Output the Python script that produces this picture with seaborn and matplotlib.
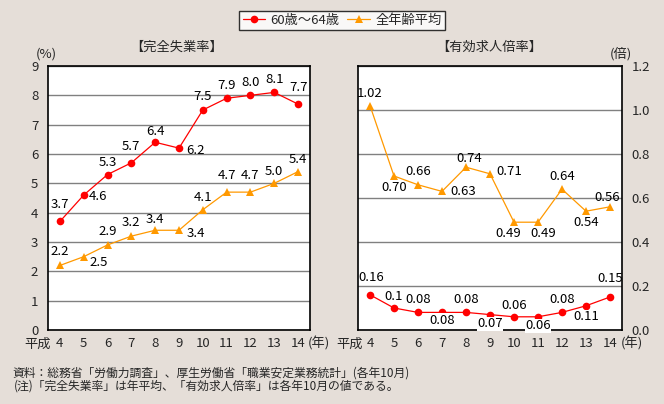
import matplotlib
matplotlib.use("Agg")
import matplotlib.pyplot as plt
import seaborn as sns
import pandas as pd
import numpy as np

sns.set_style("white")
plt.rcParams['font.family'] = ['Noto Sans CJK JP', 'DejaVu Sans']

years = ["4", "5", "6", "7", "8", "9", "10", "11", "12", "13", "14"]
unemp_6064 = [3.7, 4.6, 5.3, 5.7, 6.4, 6.2, 7.5, 7.9, 8.0, 8.1, 7.7]
unemp_all = [2.2, 2.5, 2.9, 3.2, 3.4, 3.4, 4.1, 4.7, 4.7, 5.0, 5.4]
ratio_all = [1.02, 0.70, 0.66, 0.63, 0.74, 0.71, 0.49, 0.49, 0.64, 0.54, 0.56]
ratio_6064 = [0.16, 0.10, 0.08, 0.08, 0.08, 0.07, 0.06, 0.06, 0.08, 0.11, 0.15]
ratio_6064_labels = ["0.16", "0.1", "0.08", "0.08", "0.08", "0.07", "0.06", "0.06", "0.08", "0.11", "0.15"]

name_a = "60歳～64歳"
name_b = "全年齢平均"
RED = "#FF0000"
ORANGE = "#FF9900"
BG = "#E5DED8"

# label offsets (points)
off_u6064 = [(0, 12), (10, -1), (0, 9), (0, 12), (0, 7.5), (12, -2), (0, 9.5), (0, 9.5), (0, 9.5), (0, 9), (0, 12)]
off_uall = [(0, 10), (11, -4.5), (0, 9.5), (0, 9.5), (0, 7.5), (12, -2), (0, 9), (0, 12), (0, 12), (0, 8.5), (0, 8.5)]
off_rall = [(0, 8.5), (0, -8.5), (0, 9.5), (15, 0), (2, 6.5), (14, 1.5), (-4, -8), (4, -8), (0, 9.5), (0, -8), (-2, 7)]
off_r6064 = [(1, 12.5), (0, 8), (0, 9.5), (0, -5.5), (0, 9.5), (0, -6.5), (0, 8), (0, -6.5), (0, 9.5), (0, -8), (0, 13)]

W, H = 664, 404
fig = plt.figure(figsize=(W / 100, H / 100), dpi=100)
fig.patch.set_facecolor(BG)

def px_axes(x0, y0, x1, y1):
    return fig.add_axes([x0 / W, 1 - y1 / H, (x1 - x0) / W, (y1 - y0) / H])

ax1 = px_axes(48, 66, 310, 330)
ax2 = px_axes(358, 66, 622, 330)

x = np.arange(len(years))
df = pd.DataFrame({"x": np.concatenate([x, x]),
                   "u": unemp_6064 + unemp_all,
                   "r": ratio_6064 + ratio_all,
                   "s": [name_a] * len(x) + [name_b] * len(x)})

pal = {name_a: RED, name_b: ORANGE}
mk = {name_a: "o", name_b: "^"}

FS = 9.5
for ax, col in ((ax1, "u"), (ax2, "r")):
    sns.lineplot(data=df, x="x", y=col, hue="s", style="s", palette=pal,
                 markers=mk, dashes=False, ax=ax, linewidth=0.9,
                 markersize=5.5, markeredgewidth=0, legend=(ax is ax1))
    ax.set_facecolor("white")
    ax.set_xlim(-0.5, len(x) - 0.5)
    ax.set_xlabel("")
    ax.set_ylabel("")
    ax.set_xticks(x)
    ax.set_xticklabels(years, fontsize=FS)
    ax.set_xticks(np.arange(0.5, len(x) - 1, 1), minor=True)
    ax.tick_params(axis="x", which="major", length=0, pad=5)
    ax.tick_params(axis="x", which="minor", length=4, direction="in", width=0.8, color="black")
    ax.tick_params(axis="y", length=0, labelsize=FS, pad=7)
    ax.yaxis.grid(True, color="#808080", linewidth=1)
    ax.set_axisbelow(True)
    for sp in ax.spines.values():
        sp.set_color("black")
        sp.set_linewidth(1.2)

ax1.set_ylim(0, 9)
ax1.set_yticks(range(0, 10))
ax2.set_ylim(0, 1.2)
ax2.set_yticks(np.arange(0, 1.21, 0.2))
ax2.set_yticklabels([f"{v:.1f}" for v in np.arange(0, 1.21, 0.2)])
ax2.yaxis.tick_right()

def label(ax, vals, texts, offs, bgwhite=False):
    for i, (v, t, o) in enumerate(zip(vals, texts, offs)):
        kw = {}
        if bgwhite and o[1] < 0:
            kw = dict(bbox=dict(facecolor="white", edgecolor="none", pad=0.3))
        ax.annotate(t, (i, v), xytext=o, textcoords="offset points",
                    ha="center", va="center", fontsize=FS, color="black", **kw)

label(ax1, unemp_6064, [f"{v:.1f}" for v in unemp_6064], off_u6064)
label(ax1, unemp_all, [f"{v:.1f}" for v in unemp_all], off_uall)
label(ax2, ratio_all, [f"{v:.2f}" for v in ratio_all], off_rall)
label(ax2, ratio_6064, ratio_6064_labels, off_r6064, bgwhite=True)

# legend
h, l = ax1.get_legend_handles_labels()
ax1.get_legend().remove()
leg = fig.legend(h, l, loc="center", bbox_to_anchor=(342 / W, 1 - 20.5 / H), ncol=2,
                 frameon=True, fancybox=False, edgecolor="black", fontsize=FS,
                 handlelength=1.7, columnspacing=0.6, handletextpad=0.4,
                 borderpad=0.25, borderaxespad=0)
leg.get_frame().set_linewidth(1.0)

def ftext(px, py, s, ha="center", size=FS):
    fig.text(px / W, 1 - py / H, s, ha=ha, va="center", fontsize=size)

ftext(177, 47, "【完全失業率】")
ftext(489, 47, "【有効求人倍率】")
ftext(46, 54, "(%)")
ftext(621, 54, "(倍)")
ftext(38, 344, "平成")
ftext(350, 344, "平成")
ftext(319, 344, "(年)")
ftext(632, 344, "(年)")
ftext(12, 373, "資料：総務省「労働力調査」、厚生労働省「職業安定業務統計」(各年10月)", ha="left", size=8.5)
ftext(14, 386, "(注)「完全失業率」は年平均、「有効求人倍率」は各年10月の値である。", ha="left", size=8.5)

fig.savefig("out.png", dpi=100, facecolor=BG)
